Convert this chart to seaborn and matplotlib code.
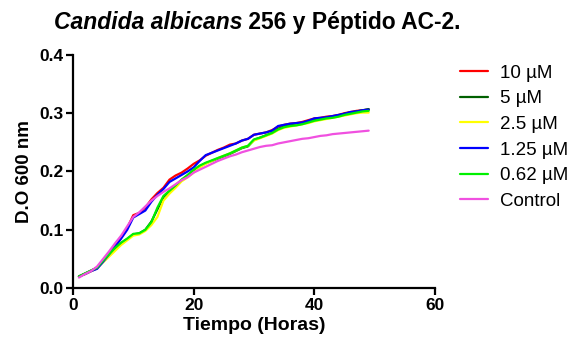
import pandas as pd
import matplotlib
matplotlib.use("Agg")
import matplotlib.pyplot as plt
import seaborn as sns

# --- data (hourly readings) ---
hours = list(range(1, 50))

od_10 = [0.020, 0.024, 0.029, 0.034, 0.046, 0.059, 0.072, 0.087, 0.103, 0.125,
         0.129, 0.138, 0.152, 0.163, 0.172, 0.186, 0.193, 0.198, 0.205, 0.213,
         0.219, 0.227, 0.232, 0.237, 0.241, 0.246, 0.248, 0.253, 0.256, 0.263,
         0.265, 0.267, 0.271, 0.277, 0.280, 0.282, 0.283, 0.285, 0.288, 0.291,
         0.292, 0.294, 0.295, 0.297, 0.300, 0.302, 0.304, 0.305, 0.306]
od_5 = [0.020, 0.025, 0.030, 0.035, 0.046, 0.057, 0.068, 0.077, 0.084, 0.092,
        0.094, 0.100, 0.114, 0.135, 0.156, 0.166, 0.175, 0.185, 0.193, 0.202,
        0.209, 0.214, 0.218, 0.222, 0.226, 0.230, 0.235, 0.240, 0.243, 0.254,
        0.258, 0.262, 0.266, 0.273, 0.277, 0.279, 0.280, 0.282, 0.285, 0.288,
        0.290, 0.292, 0.294, 0.296, 0.299, 0.301, 0.303, 0.305, 0.307]
od_25 = [0.020, 0.024, 0.029, 0.034, 0.044, 0.054, 0.064, 0.074, 0.082, 0.090,
         0.092, 0.098, 0.108, 0.122, 0.150, 0.162, 0.172, 0.183, 0.190, 0.198,
         0.207, 0.213, 0.218, 0.223, 0.227, 0.231, 0.236, 0.241, 0.244, 0.253,
         0.257, 0.261, 0.265, 0.271, 0.275, 0.277, 0.279, 0.281, 0.283, 0.286,
         0.288, 0.290, 0.292, 0.294, 0.296, 0.298, 0.300, 0.301, 0.301]
od_125 = [0.020, 0.024, 0.029, 0.033, 0.045, 0.058, 0.071, 0.085, 0.100, 0.121,
          0.127, 0.133, 0.148, 0.160, 0.170, 0.182, 0.188, 0.194, 0.200, 0.207,
          0.218, 0.228, 0.232, 0.236, 0.240, 0.244, 0.248, 0.253, 0.256, 0.263,
          0.265, 0.267, 0.270, 0.278, 0.280, 0.282, 0.283, 0.284, 0.287, 0.291,
          0.292, 0.293, 0.295, 0.297, 0.299, 0.302, 0.303, 0.305, 0.306]
od_062 = [0.020, 0.025, 0.030, 0.035, 0.047, 0.058, 0.069, 0.078, 0.085, 0.093,
          0.094, 0.100, 0.113, 0.138, 0.158, 0.167, 0.176, 0.186, 0.194, 0.203,
          0.210, 0.215, 0.219, 0.223, 0.227, 0.231, 0.236, 0.241, 0.244, 0.255,
          0.258, 0.262, 0.266, 0.272, 0.276, 0.278, 0.279, 0.281, 0.284, 0.287,
          0.289, 0.291, 0.292, 0.294, 0.297, 0.299, 0.301, 0.303, 0.304]
od_control = [0.018, 0.024, 0.029, 0.037, 0.050, 0.063, 0.077, 0.090, 0.106, 0.122,
              0.130, 0.140, 0.150, 0.158, 0.165, 0.171, 0.178, 0.185, 0.190, 0.198,
              0.203, 0.208, 0.213, 0.218, 0.222, 0.226, 0.229, 0.233, 0.236, 0.239,
              0.242, 0.244, 0.245, 0.248, 0.250, 0.252, 0.254, 0.256, 0.257, 0.259,
              0.261, 0.262, 0.264, 0.265, 0.266, 0.267, 0.268, 0.269, 0.270]

series_names = ["10 µM", "5 µM", "2.5 µM", "1.25 µM", "0.62 µM", "Control"]
series_values = [od_10, od_5, od_25, od_125, od_062, od_control]
colors = ["#FF0000", "#006000", "#FFFF00", "#0000FF", "#00F000", "#F050E0"]

x_ticks = [0, 20, 40, 60]
y_ticks = [0.0, 0.1, 0.2, 0.3, 0.4]

# long-form table for seaborn
rows = []
for name, vals in zip(series_names, series_values):
    for h, v in zip(hours, vals):
        rows.append({"Tiempo": h, "OD": v, "Serie": name})
df = pd.DataFrame(rows)

sns.set_style("ticks")
plt.rcParams["font.family"] = ["Liberation Sans", "DejaVu Sans"]
plt.rcParams["text.color"] = "black"
plt.rcParams["axes.labelcolor"] = "black"

fig = plt.figure(figsize=(5.74, 3.45), dpi=100)
ax = fig.add_axes([0.127, 0.165, 0.631, 0.676])

sns.lineplot(data=df, x="Tiempo", y="OD", hue="Serie", hue_order=series_names,
             palette=colors, linewidth=1.6, ax=ax, legend=False)

ax.set_xlim(0, 60)
ax.set_ylim(0, 0.4)
ax.set_xticks(x_ticks)
ax.set_yticks(y_ticks)
ax.set_xticklabels([str(t) for t in x_ticks], fontweight="bold", fontsize=12.5)
ax.set_yticklabels([f"{t:.1f}" for t in y_ticks], fontweight="bold", fontsize=12.5)
ax.set_xlabel("Tiempo (Horas)", fontweight="bold", fontsize=14, labelpad=3)
ax.set_ylabel("D.O 600 nm", fontweight="bold", fontsize=13.5, labelpad=4)
for side in ["top", "right"]:
    ax.spines[side].set_visible(False)
for side in ["left", "bottom"]:
    ax.spines[side].set_linewidth(1.6)
    ax.spines[side].set_color("black")
ax.tick_params(width=1.6, length=5, colors="black", pad=2)

# legend, one entry per series
handles = [plt.Line2D([], [], color=c, lw=1.6) for c in colors]
fig.legend(handles, series_names, loc="upper left", bbox_to_anchor=(0.789, 0.834),
           frameon=False, fontsize=13.5, handlelength=1.45, labelspacing=0.45,
           handletextpad=0.65, borderaxespad=0)

# title with italic species name, centred as a whole
t1 = fig.text(0, 0.935, "Candida albicans", fontsize=16.5, fontweight="bold",
              fontstyle="italic", va="center", ha="left")
t2 = fig.text(0, 0.935, " 256 y Péptido AC-2.", fontsize=16.5, fontweight="bold",
              va="center", ha="left")
fig.canvas.draw()
w1 = t1.get_window_extent().width / fig.bbox.width
w2 = t2.get_window_extent().width / fig.bbox.width
x0 = 0.448 - (w1 + w2) / 2
t1.set_x(x0)
t2.set_x(x0 + w1)

fig.savefig("out.png", dpi=100)
